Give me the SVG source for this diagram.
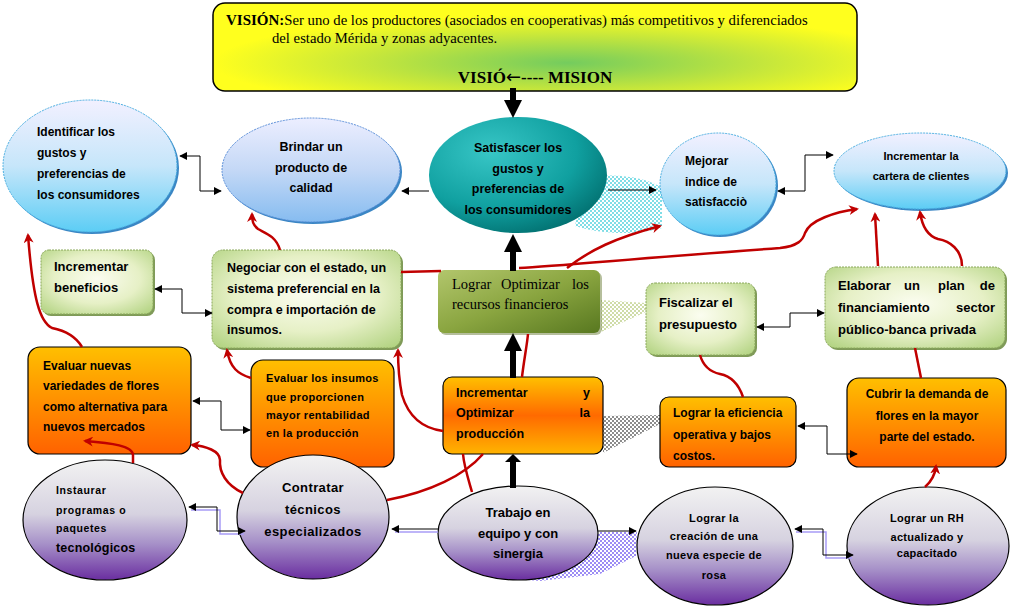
<svg xmlns="http://www.w3.org/2000/svg" width="1010" height="610" viewBox="0 0 1010 610">
<defs>
  <radialGradient id="gYel" cx="55%" cy="68%" r="55%">
    <stop offset="0" stop-color="#74cc5e"/>
    <stop offset="0.55" stop-color="#c4e63c"/>
    <stop offset="1" stop-color="#ffff1e"/>
  </radialGradient>
  <linearGradient id="gCyan" x1="0" y1="0" x2="0" y2="1">
    <stop offset="0" stop-color="#f2f0ff"/>
    <stop offset="0.5" stop-color="#c6e6fa"/>
    <stop offset="1" stop-color="#5ccdf5"/>
  </linearGradient>
  <linearGradient id="gBlue" x1="0" y1="0" x2="0" y2="1">
    <stop offset="0" stop-color="#eceeff"/>
    <stop offset="0.5" stop-color="#c4d8f6"/>
    <stop offset="1" stop-color="#86bcf0"/>
  </linearGradient>
  <radialGradient id="gTeal" cx="35%" cy="30%" r="80%">
    <stop offset="0" stop-color="#38c6c6"/>
    <stop offset="0.6" stop-color="#10a0a0"/>
    <stop offset="1" stop-color="#006a6a"/>
  </radialGradient>
  <radialGradient id="gLG" cx="50%" cy="45%" r="70%">
    <stop offset="0" stop-color="#fbfdf0"/>
    <stop offset="0.55" stop-color="#e6f0c6"/>
    <stop offset="1" stop-color="#b4d484"/>
  </radialGradient>
  <linearGradient id="gOlive" x1="0" y1="0" x2="1" y2="1">
    <stop offset="0" stop-color="#b2c66c"/>
    <stop offset="0.5" stop-color="#8aa540"/>
    <stop offset="1" stop-color="#587820"/>
  </linearGradient>
  <linearGradient id="gOr" x1="0" y1="0" x2="0" y2="1">
    <stop offset="0" stop-color="#ffbf00"/>
    <stop offset="1" stop-color="#ff6200"/>
  </linearGradient>
  <linearGradient id="gOr2" x1="0" y1="0" x2="0" y2="1">
    <stop offset="0" stop-color="#ffc000"/>
    <stop offset="0.5" stop-color="#ff6a00"/>
    <stop offset="1" stop-color="#ffb400"/>
  </linearGradient>
  <linearGradient id="gPur" x1="0" y1="0" x2="0" y2="1">
    <stop offset="0" stop-color="#f2f2f2"/>
    <stop offset="0.45" stop-color="#d6d2e0"/>
    <stop offset="0.7" stop-color="#a690c8"/>
    <stop offset="1" stop-color="#6a2ea0"/>
  </linearGradient>
  <pattern id="chk" width="4" height="4" patternUnits="userSpaceOnUse">
    <rect width="4" height="4" fill="#ffffff"/>
    <rect width="2" height="2" fill="#8c8c8c"/>
    <rect x="2" y="2" width="2" height="2" fill="#8c8c8c"/>
  </pattern>
  <pattern id="chkL" width="4" height="4" patternUnits="userSpaceOnUse">
    <rect width="4" height="4" fill="#ffffff"/>
    <rect width="2" height="2" fill="#9c8cf4"/>
    <rect x="2" y="2" width="2" height="2" fill="#9c8cf4"/>
  </pattern>
  <pattern id="chkC" width="4" height="4" patternUnits="userSpaceOnUse">
    <rect width="4" height="4" fill="#ffffff"/>
    <rect width="2" height="2" fill="#7fdde6"/>
    <rect x="2" y="2" width="2" height="2" fill="#7fdde6"/>
  </pattern>
  <pattern id="chkG" width="4" height="4" patternUnits="userSpaceOnUse">
    <rect width="4" height="4" fill="#ffffff"/>
    <rect width="2" height="2" fill="#cfdca8"/>
    <rect x="2" y="2" width="2" height="2" fill="#cfdca8"/>
  </pattern>
  <marker id="ab" viewBox="0 0 10 10" refX="9" refY="5" markerWidth="8" markerHeight="8" markerUnits="userSpaceOnUse" orient="auto-start-reverse">
    <path d="M0,0 L10,5 L0,10 z" fill="#000"/>
  </marker>
  <marker id="ar" viewBox="0 0 10 10" refX="8" refY="5" markerWidth="10" markerHeight="10" markerUnits="userSpaceOnUse" orient="auto">
    <path d="M0,0 L10,5 L0,10 L3,5 z" fill="#c00000"/>
  </marker>
</defs>
<style>
  .s{font-family:"Liberation Sans",Arial,sans-serif;font-weight:bold;fill:#000}
  .t{font-family:"Liberation Serif","Times New Roman",serif;fill:#000}
  .m{text-anchor:middle}
  .e{text-anchor:end}
  .cn{stroke:#000;stroke-width:1;fill:none;marker-start:url(#ab);marker-end:url(#ab)}
  .c1{stroke:#000;stroke-width:1;fill:none;marker-end:url(#ab)}
  .sh{stroke:#a89cf6;stroke-width:1.5;fill:none}
  .rd{stroke:#c00000;stroke-width:2.5;fill:none}
  .ra{stroke:#c00000;stroke-width:2.5;fill:none;marker-end:url(#ar)}
  .tk{fill:#000}
  .ecy{fill:url(#gCyan);stroke:#4aaee0;stroke-width:1;stroke-dasharray:2 1}
  .esh{fill:#3a86c4}
  .lg{fill:url(#gLG);stroke:#8aa85a;stroke-width:1;stroke-dasharray:2 1}
  .lgs{fill:#7f9a58}
  .or{fill:url(#gOr);stroke:#000;stroke-width:1.2}
  .pu{fill:url(#gPur);stroke:#000;stroke-width:1.2}
</style>
<rect width="1010" height="610" fill="#ffffff"/>

<g id="vision">
  <rect x="213" y="3" width="644" height="88" rx="12" fill="url(#gYel)" stroke="#000" stroke-width="1.5"/>
  <text class="t" x="226" y="25" font-size="14.7"><tspan font-weight="bold" font-size="15">VISIÓN:</tspan>Ser uno de los productores (asociados en cooperativas) más competitivos y diferenciados</text>
  <text class="t" x="272" y="43" font-size="14.7">del estado Mérida y zonas adyacentes.</text>
  <text class="t m" x="535" y="83" font-size="17" font-weight="bold">VISIÓ<tspan font-family="DejaVu Sans, sans-serif" font-weight="normal" font-size="18">←</tspan>---- MISION</text>
</g>

<g id="identificar">
  <ellipse class="esh" cx="92" cy="168" rx="87" ry="66"/>
  <ellipse class="ecy" cx="90" cy="166" rx="87" ry="66"/>
  <text class="s" font-size="12" x="37"><tspan x="37" y="136">Identificar los</tspan><tspan x="37" y="157">gustos y</tspan><tspan x="37" y="178">preferencias de</tspan><tspan x="37" y="199">los consumidores</tspan></text>
</g>

<g id="brindar">
  <ellipse class="esh" cx="313" cy="172" rx="89" ry="52"/>
  <ellipse cx="311" cy="170" rx="89" ry="52" fill="url(#gBlue)" stroke="#5a8ed8" stroke-width="1" stroke-dasharray="2 1"/>
  <text class="s m" font-size="12.5"><tspan x="311" y="151">Brindar un</tspan><tspan x="311" y="172">producto de</tspan><tspan x="311" y="192">calidad</tspan></text>
</g>

<g id="satisfascer">
  <path d="M585 178 C615 172 648 178 662 188 L662 228 C635 236 600 234 575 226 Z" fill="url(#chkC)"/>
  <ellipse cx="518" cy="175" rx="89" ry="58" fill="url(#gTeal)"/>
  <text class="s m" font-size="12.5"><tspan x="518" y="152">Satisfascer los</tspan><tspan x="518" y="173">gustos y</tspan><tspan x="518" y="193">preferencias de</tspan><tspan x="518" y="214">los consumidores</tspan></text>
</g>

<g id="mejorar">
  <ellipse class="esh" cx="720" cy="186" rx="58" ry="51"/>
  <ellipse class="ecy" cx="718" cy="184" rx="58" ry="51"/>
  <text class="s" font-size="12"><tspan x="685" y="165">Mejorar</tspan><tspan x="685" y="186">indice de</tspan><tspan x="685" y="206">satisfacciò</tspan></text>
</g>

<g id="cartera">
  <ellipse class="esh" cx="922" cy="173" rx="86" ry="38"/>
  <ellipse class="ecy" cx="920" cy="171" rx="86" ry="38"/>
  <text class="s m" font-size="11"><tspan x="921" y="160">Incrementar la</tspan><tspan x="921" y="180">cartera de clientes</tspan></text>
</g>

<g id="beneficios">
  <rect class="lgs" x="43" y="252" width="112" height="64" rx="8"/>
  <rect class="lg" x="41" y="250" width="112" height="64" rx="8"/>
  <text class="s" font-size="13"><tspan x="54" y="271">Incrementar</tspan><tspan x="54" y="292">beneficios</tspan></text>
</g>

<g id="negociar">
  <rect class="lgs" x="214" y="252" width="189" height="98" rx="11"/>
  <rect class="lg" x="212" y="250" width="189" height="98" rx="11"/>
  <text class="s" font-size="12.5"><tspan x="227" y="272">Negociar con el estado, un</tspan><tspan x="227" y="293">sistema preferencial en la</tspan><tspan x="227" y="314">compra e importación de</tspan><tspan x="227" y="334">insumos.</tspan></text>
</g>

<g id="lograr-optimizar">
  <polygon points="601,300 646,303 646,312 601,332" fill="url(#chkG)"/>
  <rect x="440" y="272" width="162" height="63" rx="6" fill="#6b7d3a" opacity="0.5"/>
  <rect x="438" y="270" width="162" height="63" rx="6" fill="url(#gOlive)"/>
  <text class="t" font-size="14.5"><tspan x="452" y="289">Lograr</tspan><tspan x="501" y="289">Optimizar</tspan><tspan class="e" x="589" y="289">los</tspan><tspan x="452" y="309">recursos financieros</tspan></text>
</g>

<g id="fiscalizar">
  <rect class="lgs" x="648" y="285" width="109" height="72" rx="9"/>
  <rect class="lg" x="646" y="283" width="109" height="72" rx="9"/>
  <text class="s" font-size="13"><tspan x="659" y="307">Fiscalizar el</tspan><tspan x="659" y="329">presupuesto</tspan></text>
</g>

<g id="elaborar">
  <rect class="lgs" x="827" y="269" width="180" height="81" rx="11"/>
  <rect class="lg" x="825" y="267" width="180" height="81" rx="11"/>
  <text class="s" font-size="13"><tspan x="838" y="290">Elaborar</tspan><tspan x="904" y="290">un</tspan><tspan x="938" y="290">plan</tspan><tspan class="e" x="995" y="290">de</tspan><tspan x="838" y="312">financiamiento</tspan><tspan class="e" x="995" y="312">sector</tspan><tspan x="838" y="334">público-banca privada</tspan></text>
</g>

<g id="evaluar-variedades">
  <rect class="or" x="28" y="347" width="163" height="107" rx="12"/>
  <text class="s" font-size="12"><tspan x="43" y="370">Evaluar nuevas</tspan><tspan x="43" y="390">variedades de flores</tspan><tspan x="43" y="411">como alternativa para</tspan><tspan x="43" y="431">nuevos mercados</tspan></text>
</g>

<g id="evaluar-insumos">
  <rect class="or" x="251" y="360" width="143" height="107" rx="12"/>
  <text class="s" font-size="11" letter-spacing="0.3"><tspan x="266" y="382">Evaluar los insumos</tspan><tspan x="266" y="401">que proporcionen</tspan><tspan x="266" y="419">mayor rentabilidad</tspan><tspan x="266" y="437">en la producción</tspan></text>
</g>

<g id="incrementar-produccion">
  <polygon points="603,416 660,415 660,424 603,453" fill="url(#chk)"/>
  <rect x="443" y="377" width="160" height="77" rx="9" fill="url(#gOr2)" stroke="#000" stroke-width="1.2"/>
  <text class="s" font-size="12.5"><tspan x="456" y="397">Incrementar</tspan><tspan class="e" x="590" y="397">y</tspan><tspan x="456" y="417">Optimizar</tspan><tspan class="e" x="590" y="417">la</tspan><tspan x="456" y="438">producción</tspan></text>
</g>

<g id="eficiencia">
  <rect class="or" x="660" y="397" width="136" height="70" rx="9"/>
  <text class="s" font-size="12"><tspan x="673" y="417">Lograr la eficiencia</tspan><tspan x="673" y="439">operativa y bajos</tspan><tspan x="673" y="460">costos.</tspan></text>
</g>

<g id="cubrir">
  <rect class="or" x="847" y="378" width="159" height="89" rx="12"/>
  <text class="s m" font-size="12"><tspan x="927" y="398">Cubrir la demanda de</tspan><tspan x="927" y="420">flores en la mayor</tspan><tspan x="927" y="441">parte del estado.</tspan></text>
</g>

<g id="instaurar">
  <ellipse class="pu" cx="105" cy="520" rx="82" ry="60"/>
  <text class="s" font-size="10.5" letter-spacing="0.6"><tspan x="56" y="494">Instaurar</tspan><tspan x="56" y="514">programas o</tspan><tspan x="56" y="532">paquetes</tspan><tspan x="56" y="552" font-size="12.5" letter-spacing="0.2">tecnológicos</tspan></text>
</g>

<g id="contratar">
  <ellipse class="pu" cx="313" cy="517" rx="76" ry="62"/>
  <text class="s m" font-size="13" letter-spacing="0.4"><tspan x="313" y="492">Contratar</tspan><tspan x="313" y="514">técnicos</tspan><tspan x="313" y="536">especializados</tspan></text>
</g>

<g id="trabajo">
  <polygon points="598,532 637,532 636,556 600,574 540,581 500,578" fill="url(#chkL)"/>
  <ellipse class="pu" cx="518" cy="533" rx="80" ry="47"/>
  <text class="s m" font-size="13"><tspan x="518" y="517">Trabajo en</tspan><tspan x="518" y="538">equipo y con</tspan><tspan x="518" y="558">sinergia</tspan></text>
</g>

<g id="rosa">
  <ellipse class="pu" cx="715" cy="546" rx="78" ry="59"/>
  <text class="s m" font-size="11" letter-spacing="0.3"><tspan x="714" y="522">Lograr la</tspan><tspan x="714" y="540">creación de una</tspan><tspan x="714" y="559">nueva especie de</tspan><tspan x="714" y="579">rosa</tspan></text>
</g>

<g id="rh">
  <ellipse class="pu" cx="928" cy="546" rx="81" ry="59"/>
  <text class="s m" font-size="11" letter-spacing="0.3"><tspan x="927" y="522">Lograr un RH</tspan><tspan x="927" y="541">actualizado y</tspan><tspan x="927" y="557">capacitado</tspan></text>
</g>

<g id="connectors">
  <rect class="tk" x="510" y="88" width="6" height="14"/>
  <polygon class="tk" points="504,100 522,100 513,118"/>
  <rect class="tk" x="510" y="251" width="6" height="20"/>
  <polygon class="tk" points="504,252 522,252 513,234"/>
  <rect class="tk" x="510" y="350" width="6" height="28"/>
  <polygon class="tk" points="504,351 522,351 513,333"/>
  <rect class="tk" x="510" y="459" width="6" height="29"/>
  <polygon class="tk" points="505,462 521,462 513,454"/>

  <path class="cn" d="M180 156 H200 V191 H221"/>
  <path class="c1" d="M429 191 H402"/>
  <path class="c1" d="M608 190 H656"/>
  <path class="cn" d="M778 191 H805 V155 H833"/>
  <path class="cn" d="M155 289 H182 V313 H212"/>
  <path class="cn" d="M757 327 H790 V313 H824"/>
  <path class="cn" d="M193 401 H221 V430 H250"/>
  <path class="cn" d="M798 426 H827 V454 H857"/>
  <path class="sh" d="M191 510 H220 V534 H244"/>
  <path class="cn" d="M189 507 H217 V531 H245"/>
  <path class="sh" d="M395 532 H438"/>
  <path class="c1" d="M438 529 H392"/>
  <path class="sh" d="M796 532 H826 V558 H852"/>
  <path class="cn" d="M795 529 H823 V555 H853"/>
  <path class="c1" d="M598 531 H636"/>

  <path class="ra" d="M82 347 C75 335 62 330 52 328 C40 322 33 300 28 235"/>
  <path class="ra" d="M280 250 C276 236 265 233 258 229 C253 225 252 221 252 214"/>
  <path class="rd" d="M401 272 L441 271"/>
  <path class="ra" d="M519 268 C560 266 640 258 780 248 C798 246 803 240 805 233 C810 220 835 212 857 209"/>
  <path class="ra" d="M522 377 C524 360 527 345 528 334 M567 268 C590 250 615 238 660 226"/>
  <path class="ra" d="M878 266 L875 214"/>
  <path class="ra" d="M962 266 C962 250 950 241 938 239 C928 236 922 226 920 212"/>
  <path class="rd" d="M921 378 L915 348"/>
  <path class="rd" d="M743 397 C738 382 730 376 720 374 C706 371 702 362 700 355"/>
  <path class="ra" d="M925 487 C932 481 935 475 936 466"/>
  <path class="ra" d="M133 463 L133 455 C133 446 112 443 85 441"/>
  <path class="ra" d="M243 493 C226 485 219 472 220 460 C220 451 206 446 192 445"/>
  <path class="ra" d="M251 378 C238 374 230 368 227 350"/>
  <path class="ra" d="M443 431 C420 428 408 415 402 395 C399 380 398 366 398 350"/>
  <path class="rd" d="M387 500 C430 492 465 475 483 454"/>
  <path class="rd" d="M472 492 C468 478 464 466 463 454"/>
</g>
</svg>
